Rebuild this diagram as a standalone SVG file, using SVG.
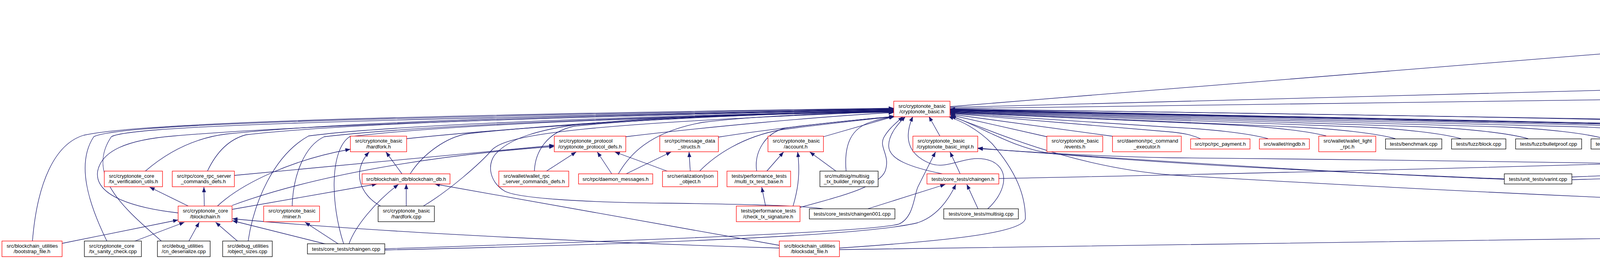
<svg xmlns="http://www.w3.org/2000/svg" width="5948" height="663" viewBox="0 0 5948 663">
<defs>
<marker id="ah" viewBox="0 0 13 10" refX="13" refY="5" markerWidth="13" markerHeight="10" markerUnits="userSpaceOnUse" orient="auto"><path d="M0,0L13,5L0,10z" fill="#191970"/></marker>
<style>
.n rect{stroke-width:1.3}
.r rect{fill:#fff;stroke:#ff0000}
.k rect{fill:#fff;stroke:#000}
.g rect{fill:#bfbfbf;stroke:#404040}
text{font-family:"Liberation Sans",Arial,Helvetica,sans-serif;font-size:13.2px;fill:#000}
.m{text-anchor:middle}
#edges path{fill:none;stroke:#191970;stroke-width:1.3;marker-end:url(#ah)}
</style>
</defs>
<rect x="0" y="0" width="5948" height="663" fill="#fff"/>
<g id="edges" transform="translate(0,-2)">
<path d="M83,620 C95,470 140,370 215,348 C330,322 800,300 2288,279"/>
<path d="M274,620 C225,520 195,420 240,352 C300,322 800,305 2288,280"/>
<path d="M414,620 C330,545 215,455 285,352 C330,326 800,310 2288,281"/>
<path d="M456,547 C350,535 240,505 250,440 C260,390 320,360 446,350 C800,320 1500,300 2288,282"/>
<path d="M372,440 C430,390 500,355 580,345 C900,312 1500,296 2288,283"/>
<path d="M531,440 C550,400 580,360 630,347 C900,316 1500,298 2288,284"/>
<path d="M635,620 C650,520 700,400 790,350 C1000,322 1600,300 2288,285"/>
<path d="M748,530 C750,450 780,375 830,352 C1100,320 1700,300 2288,285"/>
<path d="M880,627 C845,520 845,385 895,352 C1150,320 1700,301 2288,286"/>
<path d="M1041,357 C1300,330 1800,295 2288,286"/>
<path d="M1050,447 C1080,400 1140,352 1200,344 C1500,312 1900,292 2288,287"/>
<path d="M1083,530 C1150,490 1230,420 1260,385 C1300,345 1500,318 2288,287"/>
<path d="M1368,440 C1370,390 1400,340 1470,325 C1700,302 2000,292 2288,288"/>
<path d="M1583,447 C1610,400 1660,340 1800,315 C1950,297 2150,291 2288,289"/>
<path d="M1602,352 C1800,328 2100,300 2288,290"/>
<path d="M2111,537 C2050,527 1850,524 1700,522 C1500,520 1320,510 1290,490 C1250,465 1245,415 1275,390 C1310,355 1380,335 1470,322 C1700,298 2000,291 2288,289"/>
<path d="M1839,353 C1950,335 2150,312 2289,300"/>
<path d="M1791,440 C1830,400 1900,352 2000,334 C2150,315 2250,305 2289,300"/>
<path d="M1937,440 C1930,390 1960,342 2010,330 C2150,312 2250,304 2289,300"/>
<path d="M2108,352 L2289,300"/>
<path d="M2166,440 C2160,370 2180,330 2230,314 C2255,306 2275,302 2292,300"/>
<path d="M2048,533 C2150,505 2250,480 2266,440 C2280,400 2250,380 2262,355 C2275,330 2300,312 2312,300"/>
<path d="M2412,447 C2330,430 2275,410 2275,375 C2275,345 2300,318 2318,300"/>
<path d="M2528,537 C2570,500 2590,440 2540,415 C2480,390 2430,440 2380,420 C2320,395 2315,350 2337,300"/>
<path d="M2406,350 L2378,300"/>
<path d="M2149,637 C2400,620 2625,600 2625,560 C2625,500 2600,440 2540,370 C2500,330 2460,312 2428,300"/>
<path d="M2680,352 L2432,296"/>
<path d="M2850,351 L2432,294"/>
<path d="M3073,357 C3050,347 3030,343 3000,340 L2432,292"/>
<path d="M3246,357 C3196,343 3096,332 2986,327 L2432,291"/>
<path d="M3395,350 C3345,337 3245,326 3135,321 L2432,290"/>
<path d="M3572,357 C3522,343 3422,332 3312,327 L2432,289"/>
<path d="M3740,357 C3690,343 3590,332 3480,327 L2432,288"/>
<path d="M3912,357 C3862,343 3762,332 3652,327 L2432,287"/>
<path d="M4108,357 C4058,343 3958,332 3848,327 L2432,286"/>
<path d="M4315,357 C4265,343 4165,332 4055,327 L2432,285"/>
<path d="M4532,357 C4482,343 4382,332 4272,327 L2432,284"/>
<path d="M4720,357 C4670,343 4570,332 4460,327 L2432,284"/>
<path d="M4890,350 C4850,340 4780,333 4700,330 L2432,283"/>
<path d="M5075,351 C5050,340 5000,337 4948,336 C4000,312 3000,290 2432,282"/>
<path d="M5412,357 C5300,350 5100,342 4948,339 C4000,316 3000,293 2432,283"/>
<path d="M5283,440 C5278,400 5255,352 5225,342 C5000,326 4000,300 2432,282"/>
<path d="M5680,447 C5670,400 5655,352 5620,345 C5300,328 4500,310 2432,281"/>
<path d="M3851,460 C3500,445 3100,430 2700,396 C2600,385 2520,330 2434,298"/>
<path d="M5218,549 C4900,540 4000,510 3000,450 C2750,430 2560,345 2434,299"/>
<path d="M3851,461 C3500,448 3000,418 2503,382"/>
<path d="M5583,458 C5200,436 4000,415 3000,406 C2800,402 2600,390 2503,381"/>
<path d="M2432,275 L5419,33"/>
<path d="M2432,277 L5363,200"/>
<path d="M2432,280 C3500,270 4500,258 4948,246 C5300,234 5505,218 5530,200 C5545,185 5548,160 5547,137"/>
<path d="M5436,186 C5445,140 5460,90 5474,47"/>
<path d="M5534,97 L5506,47"/>
<path d="M5801,99 L5560,43"/>
<path d="M5697,447 C5740,370 5764,320 5764,270 L5764,200 C5764,120 5650,75 5561,46"/>
<path d="M5684,447 C5670,350 5640,230 5578,137"/>
<path d="M5452,186 L5516,137"/>
<path d="M5509,350 L5442,213"/>
<path d="M4024,455 C4400,440 4800,425 4948,419 C5100,412 5220,402 5260,380 C5320,330 5324,260 5324,200 C5324,130 5390,80 5440,47"/>
<path d="M4024,462 C4500,447 4800,438 4948,434 C5150,425 5290,412 5343,387 C5450,320 5540,240 5546,200 C5549,170 5550,155 5551,137"/>
<path d="M2556,459 C3000,450 4000,430 5412,381"/>
<path d="M5340,440 L5458,391"/>
<path d="M5311,530 L5484,391"/>
<path d="M5285,530 L5285,481"/>
<path d="M2149,641 C3000,633 4000,617 4948,596 C5300,585 5380,560 5420,510 C5460,460 5490,420 5505,391"/>
<path d="M483,530 L383,481"/>
<path d="M523,530 L522,481"/>
<path d="M556,530 C620,470 750,410 897,384"/>
<path d="M594,528 C800,452 1100,400 1419,377"/>
<path d="M600,451 L1419,374"/>
<path d="M594,538 L965,473"/>
<path d="M159,625 L456,565"/>
<path d="M343,620 L472,571"/>
<path d="M483,620 L510,571"/>
<path d="M609,620 L552,571"/>
<path d="M835,627 L595,567"/>
<path d="M1995,637 C1600,625 1000,600 595,562"/>
<path d="M867,627 L781,571"/>
<path d="M893,627 C910,580 960,520 1020,474"/>
<path d="M1995,630 L1113,473"/>
<path d="M1029,447 L988,391"/>
<path d="M975,530 C920,500 900,440 945,391"/>
<path d="M1040,530 L1040,473"/>
<path d="M985,639 C1400,625 2200,600 2300,576 C2340,560 2340,500 2350,480 C2370,440 2385,410 2395,391"/>
<path d="M985,642 C1500,630 2200,610 2350,572 C2400,555 2430,510 2447,474"/>
<path d="M1399,440 L1475,391"/>
<path d="M1566,447 L1529,391"/>
<path d="M1708,440 L1574,391"/>
<path d="M1603,447 L1718,391"/>
<path d="M1767,440 L1764,391"/>
<path d="M1960,530 L1950,481"/>
<path d="M1963,440 L2006,391"/>
<path d="M2030,530 C2045,480 2048,440 2042,391"/>
<path d="M2140,440 L2073,391"/>
<path d="M2220,537 L2420,474"/>
<path d="M2504,537 L2475,474"/>
<path d="M2458,447 L2432,391"/>
</g>
<g id="n_json_archive" class="n g"><rect x="5419" y="5" width="140" height="40"/><text x="5431" y="21.5">src/serialization/json</text><text class="m" x="5489" y="36.3">_archive.h</text></g>
<g id="n_debug_archive" class="n r"><rect x="5470" y="95" width="152" height="40"/><text x="5482" y="111.5">src/serialization/debug</text><text class="m" x="5546" y="126.3">_archive.h</text></g>
<g id="n_json_utils" class="n r"><rect x="5801" y="95" width="142" height="40"/><text x="5813" y="111.5">src/serialization/json</text><text class="m" x="5872" y="126.3">_utils.h</text></g>
<g id="n_rcttypes" class="n r"><rect x="5363" y="184.5" width="141" height="26"/><text class="m" x="5433.5" y="202.1">src/ringct/rctTypes.h</text></g>
<g id="n_cryptonote_basic" class="n r"><rect x="2288" y="259" width="144" height="40"/><text x="2300" y="275.5">src/cryptonote_basic</text><text class="m" x="2360" y="290.3">/cryptonote_basic.h</text></g>
<g id="n_hardfork_h" class="n r"><rect x="897" y="348.5" width="144" height="40"/><text x="909" y="365">src/cryptonote_basic</text><text class="m" x="969" y="379.8">/hardfork.h</text></g>
<g id="n_protocol_defs" class="n r"><rect x="1419" y="348.5" width="183" height="40"/><text x="1431" y="365">src/cryptonote_protocol</text><text class="m" x="1510.5" y="379.8">/cryptonote_protocol_defs.h</text></g>
<g id="n_message_data_structs" class="n r"><rect x="1689" y="348.5" width="150" height="40"/><text x="1701" y="365">src/rpc/message_data</text><text class="m" x="1764" y="379.8">_structs.h</text></g>
<g id="n_account" class="n r"><rect x="1966" y="348.5" width="142" height="40"/><text x="1978" y="365">src/cryptonote_basic</text><text class="m" x="2037" y="379.8">/account.h</text></g>
<g id="n_basic_impl" class="n r"><rect x="2337" y="348.5" width="166" height="40"/><text x="2349" y="365">src/cryptonote_basic</text><text class="m" x="2420" y="379.8">/cryptonote_basic_impl.h</text></g>
<g id="n_events" class="n r"><rect x="2680" y="348.5" width="143" height="40"/><text x="2692" y="365">src/cryptonote_basic</text><text class="m" x="2751.5" y="379.8">/events.h</text></g>
<g id="n_rpc_command_executor" class="n r"><rect x="2848" y="348.5" width="176" height="40"/><text x="2860" y="365">src/daemon/rpc_command</text><text class="m" x="2936" y="379.8">_executor.h</text></g>
<g id="n_rpc_payment" class="n r"><rect x="3048" y="355.5" width="152" height="26"/><text class="m" x="3124" y="373.1">src/rpc/rpc_payment.h</text></g>
<g id="n_ringdb" class="n r"><rect x="3224" y="355.5" width="128" height="26"/><text class="m" x="3288" y="373.1">src/wallet/ringdb.h</text></g>
<g id="n_wallet_light_rpc" class="n r"><rect x="3376" y="348.5" width="146" height="40"/><text x="3388" y="365">src/wallet/wallet_light</text><text class="m" x="3449" y="379.8">_rpc.h</text></g>
<g id="n_benchmark" class="n k"><rect x="3547" y="355.5" width="144" height="26"/><text class="m" x="3619" y="373.1">tests/benchmark.cpp</text></g>
<g id="n_fuzz_block" class="n k"><rect x="3716" y="355.5" width="139" height="26"/><text class="m" x="3785.5" y="373.1">tests/fuzz/block.cpp</text></g>
<g id="n_fuzz_bulletproof" class="n k"><rect x="3880" y="355.5" width="169" height="26"/><text class="m" x="3964.5" y="373.1">tests/fuzz/bulletproof.cpp</text></g>
<g id="n_fuzz_cold_outputs" class="n k"><rect x="4073" y="355.5" width="180" height="26"/><text class="m" x="4163" y="373.1">tests/fuzz/cold-outputs.cpp</text></g>
<g id="n_fuzz_cold_transaction" class="n k"><rect x="4277" y="355.5" width="201" height="26"/><text class="m" x="4377.5" y="373.1">tests/fuzz/cold-transaction.cpp</text></g>
<g id="n_fuzz_signature" class="n k"><rect x="4503" y="355.5" width="162" height="26"/><text class="m" x="4584" y="373.1">tests/fuzz/signature.cpp</text></g>
<g id="n_fuzz_transaction" class="n k"><rect x="4690" y="355.5" width="172" height="26"/><text class="m" x="4776" y="373.1">tests/fuzz/transaction.cpp</text></g>
<g id="n_cn_fast_hash" class="n r"><rect x="4887" y="348.5" width="162" height="40"/><text x="4899" y="365">tests/performance_tests</text><text class="m" x="4968" y="379.8">/cn_fast_hash.h</text></g>
<g id="n_cn_slow_hash" class="n r"><rect x="5073" y="348.5" width="163" height="40"/><text x="5085" y="365">tests/performance_tests</text><text class="m" x="5154.5" y="379.8">/cn_slow_hash.h</text></g>
<g id="n_boost_serialization" class="n r"><rect x="5412" y="348.5" width="213" height="40"/><text x="5424" y="365">src/cryptonote_basic</text><text class="m" x="5518.5" y="379.8">/cryptonote_boost_serialization.h</text></g>
<g id="n_tx_verification_utils" class="n r"><rect x="267" y="438" width="149" height="40"/><text x="279" y="454.5">src/cryptonote_core</text><text class="m" x="341.5" y="469.3">/tx_verification_utils.h</text></g>
<g id="n_core_rpc_server_commands_defs" class="n r"><rect x="441" y="438" width="159" height="40"/><text x="453" y="454.5">src/rpc/core_rpc_server</text><text class="m" x="520.5" y="469.3">_commands_defs.h</text></g>
<g id="n_blockchain_db" class="n r"><rect x="927" y="445" width="225" height="26"/><text class="m" x="1039.5" y="462.6">src/blockchain_db/blockchain_db.h</text></g>
<g id="n_wallet_rpc_server_commands_defs" class="n r"><rect x="1277" y="438" width="179" height="40"/><text x="1289" y="454.5">src/wallet/wallet_rpc</text><text class="m" x="1366.5" y="469.3">_server_commands_defs.h</text></g>
<g id="n_daemon_messages" class="n r"><rect x="1481" y="445" width="190" height="26"/><text class="m" x="1576" y="462.6">src/rpc/daemon_messages.h</text></g>
<g id="n_json_object" class="n r"><rect x="1696" y="438" width="141" height="40"/><text x="1708" y="454.5">src/serialization/json</text><text class="m" x="1766.5" y="469.3">_object.h</text></g>
<g id="n_multi_tx_test_base" class="n r"><rect x="1861" y="438" width="163" height="40"/><text x="1873" y="454.5">tests/performance_tests</text><text class="m" x="1942.5" y="469.3">/multi_tx_test_base.h</text></g>
<g id="n_multisig_tx_builder_ringct" class="n k"><rect x="2099" y="438" width="149" height="40"/><text x="2111" y="454.5">src/multisig/multisig</text><text class="m" x="2173.5" y="469.3">_tx_builder_ringct.cpp</text></g>
<g id="n_chaingen_h" class="n r"><rect x="2373" y="445" width="184" height="26"/><text class="m" x="2465" y="462.6">tests/core_tests/chaingen.h</text></g>
<g id="n_varint" class="n k"><rect x="3851" y="445" width="173" height="26"/><text class="m" x="3937.5" y="462.6">tests/unit_tests/varint.cpp</text></g>
<g id="n_message_transporter" class="n r"><rect x="5218" y="438" width="134" height="40"/><text x="5230" y="454.5">src/wallet/message</text><text class="m" x="5285" y="469.3">_transporter.h</text></g>
<g id="n_serialization_cpp" class="n k"><rect x="5583" y="445" width="210" height="26"/><text class="m" x="5688" y="462.6">tests/unit_tests/serialization.cpp</text></g>
<g id="n_blockchain_h" class="n r"><rect x="456" y="527.5" width="138" height="40"/><text x="468" y="544">src/cryptonote_core</text><text class="m" x="525" y="558.8">/blockchain.h</text></g>
<g id="n_miner" class="n r"><rect x="675" y="527.5" width="143" height="40"/><text x="687" y="544">src/cryptonote_basic</text><text class="m" x="746.5" y="558.8">/miner.h</text></g>
<g id="n_hardfork_cpp" class="n k"><rect x="968" y="527.5" width="144" height="40"/><text x="980" y="544">src/cryptonote_basic</text><text class="m" x="1040" y="558.8">/hardfork.cpp</text></g>
<g id="n_check_tx_signature" class="n r"><rect x="1885" y="527.5" width="163" height="40"/><text x="1897" y="544">tests/performance_tests</text><text class="m" x="1966.5" y="558.8">/check_tx_signature.h</text></g>
<g id="n_chaingen001" class="n k"><rect x="2072" y="534.5" width="219" height="26"/><text class="m" x="2181.5" y="552.1">tests/core_tests/chaingen001.cpp</text></g>
<g id="n_multisig_cpp" class="n k"><rect x="2416" y="534.5" width="191" height="26"/><text class="m" x="2511.5" y="552.1">tests/core_tests/multisig.cpp</text></g>
<g id="n_message_store" class="n r"><rect x="5218" y="527.5" width="134" height="40"/><text x="5230" y="544">src/wallet/message</text><text class="m" x="5285" y="558.8">_store.h</text></g>
<g id="n_bootstrap_file" class="n r"><rect x="5" y="617" width="154" height="40"/><text x="17" y="633.5">src/blockchain_utilities</text><text class="m" x="82" y="648.3">/bootstrap_file.h</text></g>
<g id="n_tx_sanity_check" class="n k"><rect x="216" y="617" width="146" height="40"/><text x="228" y="633.5">src/cryptonote_core</text><text class="m" x="289" y="648.3">/tx_sanity_check.cpp</text></g>
<g id="n_cn_deserialize" class="n k"><rect x="403" y="617" width="135" height="40"/><text x="415" y="633.5">src/debug_utilities</text><text class="m" x="470.5" y="648.3">/cn_deserialize.cpp</text></g>
<g id="n_object_sizes" class="n k"><rect x="570" y="617" width="127" height="40"/><text x="582" y="633.5">src/debug_utilities</text><text class="m" x="633.5" y="648.3">/object_sizes.cpp</text></g>
<g id="n_chaingen_cpp" class="n k"><rect x="787" y="624" width="198" height="26"/><text class="m" x="886" y="641.6">tests/core_tests/chaingen.cpp</text></g>
<g id="n_blocksdat_file" class="n r"><rect x="1995" y="617" width="154" height="40"/><text x="2007" y="633.5">src/blockchain_utilities</text><text class="m" x="2072" y="648.3">/blocksdat_file.h</text></g>
</svg>
